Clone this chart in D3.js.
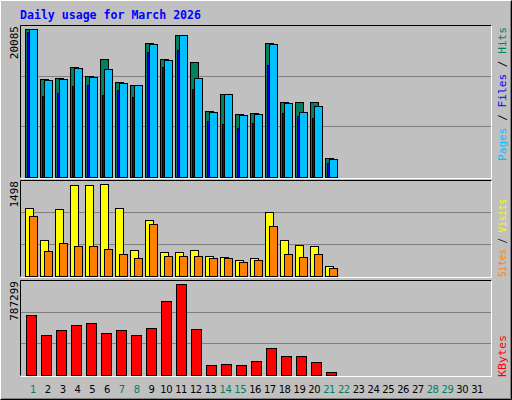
<!DOCTYPE html><html><head><meta charset="utf-8">
<script src="https://cdn.jsdelivr.net/npm/d3@7"></script>
<style>body{margin:0;background:#fff}</style></head><body>
<script>
const days = d3.range(1, 32);
const weekend = [1,7,8,14,15,21,22,28,29];
const hits  = [20085,13300,13435,14930,13705,16015,12890,12485,18185,16015,19270,15605,8955,11265,8550,8685,18185,10180,10180,10180,2580];
const files = [19680,10990,11400,12350,12485,11130,11805,10855,16965,14930,17235,11940,7600,7190,6650,7330,15200,8685,8280,8005,1900];
const pages = [20085,13165,13300,14790,13570,14655,12755,12485,18050,15880,19270,13435,8820,11265,8415,8550,18050,10040,8820,9635,2440];
const visits= [1107,586,1091,1482,1482,1498,1107,423,912,391,391,423,326,309,260,293,1042,586,505,488,163];
const sites = [977,407,537,488,488,440,358,293,847,326,326,326,293,293,228,260,814,358,309,358,130];
const kbytes= [519100,346065,389325,432580,449880,363370,389325,346065,406620,640220,787299,397970,86520,95170,86520,121120,233590,164380,164380,112470,25950];

const W=512,H=400;
const svg=d3.select("body").append("svg").attr("width",W).attr("height",H);
svg.append("rect").attr("width",W).attr("height",H).attr("fill","#c0c0c0");
svg.append("path").attr("d",`M0.5,${H-0.5}V0.5H${W-0.5}`).attr("stroke","#fff").attr("fill","none");
svg.append("path").attr("d",`M0.5,${H-0.5}H${W-0.5}V0.5`).attr("stroke","#000").attr("fill","none");
svg.append("path").attr("d",`M1.5,${H-1.5}H${W-1.5}V1.5`).attr("stroke","#808080").attr("fill","none");
svg.append("text").attr("x",20).attr("y",19).text("Daily usage for March 2026")
  .attr("font-family","DejaVu Sans Mono").attr("font-weight","bold").attr("font-size",12).attr("fill","#0000ff")
  .attr("textLength",181).attr("lengthAdjust","spacingAndGlyphs");

const bx=d=>25+15*(d-1);
const L=20,R=491;
function panel(top,bot){
  svg.append("rect").attr("x",L).attr("y",top).attr("width",R-L).attr("height",bot-top).attr("fill","#c0c0c0");
  svg.append("path").attr("d",`M${L+0.5},${bot+0.5}V${top+0.5}H${R+0.5}`).attr("stroke","#000").attr("fill","none");
  svg.append("path").attr("d",`M${L+0.5},${bot+1.5}H${R+0.5}V${top+0.5}`).attr("stroke","#fff").attr("fill","none");
  const h=bot-top;
  [1,2].forEach(k=>svg.append("line").attr("x1",L+1).attr("x2",R).attr("y1",Math.round(bot-h*k/3)+0.5).attr("y2",Math.round(bot-h*k/3)+0.5).attr("stroke","#808080"));
}
function bars(data,y,off,w,color){
  svg.append("g").selectAll("rect").data(data).join("rect")
   .attr("x",(d,i)=>bx(i+1)+off+0.5).attr("y",d=>Math.round(y(d))+0.5)
   .attr("width",w).attr("height",d=>y(0)-Math.round(y(d)))
   .attr("fill",color).attr("stroke","#000");
}
function leftLabel(txt,yTop){
  svg.append("text").attr("transform",`translate(18,${yTop}) rotate(-90)`).attr("text-anchor","end")
   .attr("font-family","DejaVu Sans Mono").attr("font-size",11).text(txt);
}
function rightUp(parts,yBottom,len){
  const t=svg.append("text").attr("transform",`translate(506,${yBottom}) rotate(-90)`)
   .attr("font-family","DejaVu Sans Mono").attr("font-size",11)
   .attr("textLength",len).attr("lengthAdjust","spacingAndGlyphs");
  parts.forEach(p=>t.append("tspan").attr("fill",p[1]).text(p[0]));
}
panel(25,177);
const y1=d3.scaleLinear().domain([0,20085]).range([177,29]);
bars(hits,y1,0,8,"#00805c");
bars(files,y1,2,8,"#0000ff");
bars(pages,y1,4,8,"#00c0ff");
leftLabel("20085",26);
panel(180,276);
const y2=d3.scaleLinear().domain([0,1498]).range([276,184]);
bars(visits,y2,0,8,"#ffff00");
bars(sites,y2,4,8,"#ff8000");
leftLabel("1498",181);
panel(280,375);
const y3=d3.scaleLinear().domain([0,787299]).range([375,284]);
bars(kbytes,y3,1,10,"#ff0000");
leftLabel("787299",281);
rightUp([["Pages","#00c0ff"],[" / ","#000"],["Files","#0000ff"],[" / ","#000"],["Hits","#00805c"]],161,134);
rightUp([["Sites","#ff8000"],[" / ","#000"],["Visits","#ffff00"]],277,78);
rightUp([["KBytes","#ff0000"]],377,42);
svg.append("g").selectAll("text").data(days).join("text")
 .attr("x",d=>33+14.8*(d-1)).attr("y",393).attr("text-anchor","middle")
 .attr("font-family","DejaVu Sans").attr("font-size",10).attr("letter-spacing",-0.5)
 .attr("fill",d=>weekend.includes(d)?"#00805c":"#000").text(d=>d);
</script></body></html>
